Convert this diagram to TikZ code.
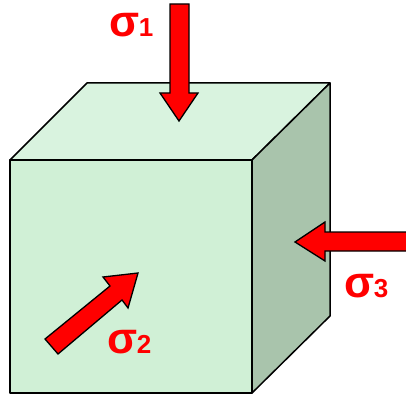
\documentclass[tikz,border=0pt]{standalone}
\usepackage{fontspec}
\setmainfont{Liberation Sans}
\definecolor{frontc}{HTML}{D0F0D6}
\definecolor{topc}{HTML}{D9F3DF}
\definecolor{sidec}{HTML}{A9C4AC}
\definecolor{arrowred}{HTML}{FF0000}
\newcommand{\stresslabel}[1]{\bfseries\fontsize{44}{44}\selectfont σ\kern-0.5pt\fontsize{26}{26}\selectfont #1}
\tikzset{
  face/.style={draw=black,line width=1.5pt,line join=round},
  force/.style={draw=black,fill=arrowred,line width=1.3pt,line join=miter},
  stress/.style={text=arrowred,inner sep=0pt,anchor=base west}
}
\begin{document}
\begin{tikzpicture}[x=1pt,y=-1pt]
\useasboundingbox (0,0) rectangle (406,395);
% cube
\path[face,fill=topc] (10,160) -- (87,83) -- (330,83) -- (252,160) -- cycle;
\path[face,fill=sidec] (252,160) -- (330,83) -- (330,316) -- (252,393) -- cycle;
\path[face,fill=frontc] (10,160) rectangle (252,393);
% arrows
\path[force] (170,4) -- (189,4) -- (189,93) -- (198,93) -- (179,121) -- (160,93) -- (170,93) -- cycle;
\path[force] (406,232) -- (325,232) -- (325,222) -- (295,242) -- (325,261) -- (325,251) -- (406,251);
\path[force] (45,339) -- (110,286) -- (103,277) -- (138,273) -- (128,308) -- (122,300) -- (58,354) -- cycle;
% labels
\node[stress] (s1) at (109,36.5) {\stresslabel{1}};
\node[stress] (s2) at (107,353) {\stresslabel{2}};
\node[stress] (s3) at (344,297) {\stresslabel{3}};
\end{tikzpicture}
\end{document}
